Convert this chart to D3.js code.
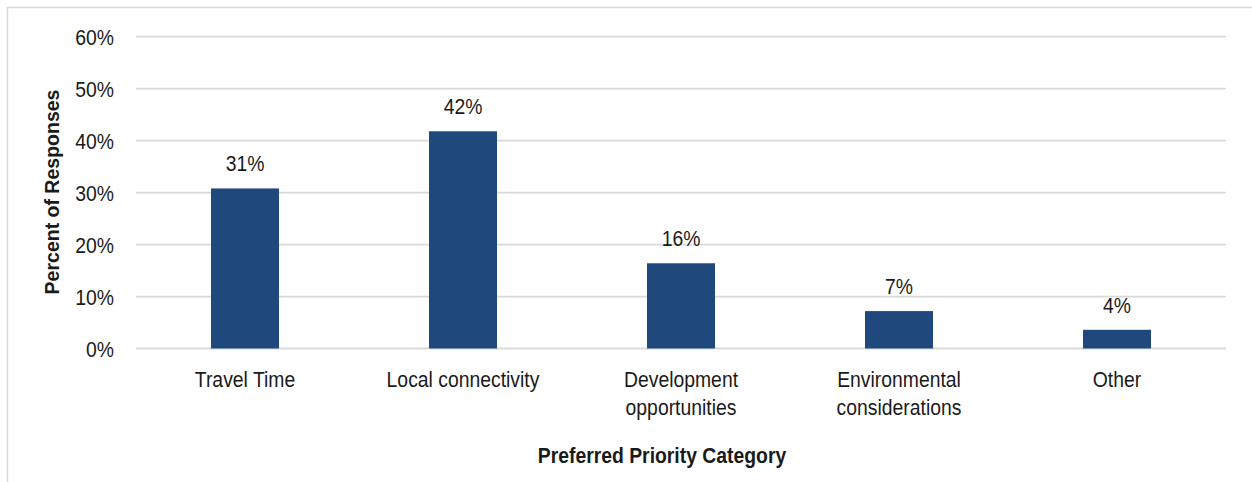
<!DOCTYPE html>
<html><head><meta charset="utf-8">
<script src="https://cdn.jsdelivr.net/npm/d3@7"></script>
<style>
html,body{margin:0;padding:0;background:#fff;}
svg{display:block;font-family:"Liberation Sans",Arial,sans-serif;}
</style></head>
<body>
<svg id="chart" width="1252" height="482"></svg>
<script>
const categories = [["Travel Time"], ["Local connectivity"], ["Development", "opportunities"], ["Environmental", "considerations"], ["Other"]];
const values = [30.8, 41.8, 16.4, 7.2, 3.6];
const valueLabels = ["31%", "42%", "16%", "7%", "4%"];
const yTicks = [0, 10, 20, 30, 40, 50, 60];
const xTitle = "Preferred Priority Category";
const yTitle = "Percent of Responses";

const SX = 0.88;
const svg = d3.select("#chart");
const keys = categories.map(c => c.join(" "));

// frame
svg.append("rect").attr("x", 7.5).attr("y", 7.5).attr("width", 1300).attr("height", 500)
  .attr("fill", "none").attr("stroke", "#d9d9d9").attr("stroke-width", 1.5);

const x = d3.scaleBand().domain(keys).range([136, 1226]).paddingInner(0.688).paddingOuter(0.344);
const y = d3.scaleLinear().domain([0, 60]).range([348.5, 36.7]);

// gridlines
svg.append("g").selectAll("line").data(yTicks).join("line")
  .attr("x1", 136).attr("x2", 1226)
  .attr("y1", d => y(d)).attr("y2", d => y(d))
  .attr("stroke", "#d9d9d9").attr("stroke-width", 1.8);

// y axis tick labels
const yAxis = d3.axisLeft(y).tickValues(yTicks).tickFormat(d => d + "%").tickSize(0).tickPadding(0);
const gy = svg.append("g").attr("transform", "translate(114,0)").call(yAxis);
gy.select(".domain").remove();
gy.selectAll("text").attr("x", 0).attr("dy", "0.36em")
  .attr("font-size", 22).attr("fill", "#1a1a1a").attr("font-family", "Liberation Sans, Arial, sans-serif")
  .attr("transform", `scale(${SX},1)`);

// bars
svg.append("g").selectAll("rect").data(values).join("rect")
  .attr("x", (d, i) => x(keys[i]))
  .attr("width", x.bandwidth())
  .attr("y", d => y(d))
  .attr("height", d => y(0) - y(d))
  .attr("fill", "#1F497D");

// data labels
svg.append("g").selectAll("text").data(values).join("text")
  .attr("transform", (d, i) => `translate(${x(keys[i]) + x.bandwidth() / 2},${y(d) - 17}) scale(${SX},1)`)
  .attr("text-anchor", "middle").attr("font-size", 22).attr("fill", "#1a1a1a")
  .text((d, i) => valueLabels[i]);

// category labels
const xAxis = d3.axisBottom(x).tickSize(0).tickFormat("");
const gx = svg.append("g").attr("transform", "translate(0,348.5)").call(xAxis);
gx.select(".domain").remove();
gx.selectAll(".tick").each(function (k, i) {
  const t = d3.select(this).append("text")
    .attr("transform", `scale(${SX},1)`)
    .attr("text-anchor", "middle").attr("font-size", 22).attr("fill", "#1a1a1a")
    .attr("font-family", "Liberation Sans, Arial, sans-serif");
  categories[i].forEach((line, j) => {
    t.append("tspan").attr("x", 0).attr("y", 38.5 + j * 28).text(line);
  });
});

// axis titles
svg.append("text").attr("transform", `translate(662,463) scale(${SX},1)`)
  .attr("text-anchor", "middle").attr("font-size", 22).attr("font-weight", "bold").attr("fill", "#1a1a1a")
  .text(xTitle);
svg.append("text").attr("transform", "translate(59,192) rotate(-90)")
  .attr("text-anchor", "middle").attr("font-size", 19.5).attr("font-weight", "bold").attr("fill", "#1a1a1a")
  .text(yTitle);
</script>
</body></html>
